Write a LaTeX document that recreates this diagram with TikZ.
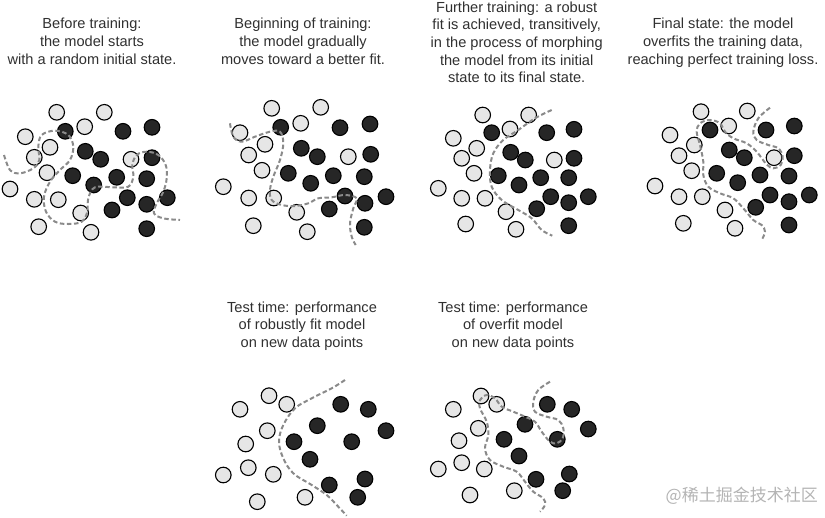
\documentclass[tikz,border=0pt]{standalone}
\usepackage{fontspec}
\setmainfont{Liberation Sans}
\newfontfamily\cjk{Noto Sans CJK SC}
\definecolor{lightc}{HTML}{E6E6E6}
\definecolor{darkc}{HTML}{262626}
\definecolor{dashc}{HTML}{8A8A8A}
\definecolor{txtc}{HTML}{303030}
\definecolor{wmc}{HTML}{B4B4B4}
\begin{document}
\begin{tikzpicture}[x=1pt,y=-1pt,
  wc/.style={fill=lightc, draw=black, line width=1.1pt},
  dc/.style={fill=darkc, draw=black, line width=1.1pt},
  bnd/.style={draw=dashc, line width=2pt, dash pattern=on 4.5pt off 2.6pt},
  captxt/.style={anchor=base, inner sep=0pt, text=txtc, font=\fontsize{14.6}{17.7}\selectfont}]
\useasboundingbox (0,0) rectangle (825,517);
\def\rr{7.8}
% ---------- captions ----------
\foreach \t [count=\i] in {Before training:, the model starts, with a random initial state.}
  \node[captxt] (ca\i) at (92, 28.8+17.7*\i-17.7) {\t};
\foreach \t [count=\i] in {Beginning of training:, the model gradually, moves toward a better fit.}
  \node[captxt] (cb\i) at (303, 28.8+17.7*\i-17.7) {\t};
\foreach \t [count=\i] in {Further training: a robust, {fit is achieved, transitively,}, in the process of morphing, the model from its initial, state to its final state.}
  \node[captxt] (cc\i) at (516.7, 12.1+17.7*\i-17.7) {\t};
\foreach \t [count=\i] in {Final state: the model, {overfits the training data,}, reaching perfect training loss.}
  \node[captxt] (cd\i) at (723, 28.8+17.7*\i-17.7) {\t};
\foreach \t [count=\i] in {Test time: performance, of robustly fit model, on new data points}
  \node[captxt] (ce\i) at (302, 312.1+17.6*\i-17.6) {\t};
\foreach \t [count=\i] in {Test time: performance, of overfit model, on new data points}
  \node[captxt] (cf\i) at (513, 312.1+17.6*\i-17.6) {\t};
% ---------- panel 1 ----------
\foreach \x/\y in {56.7/112.3,104.3/112.3,84.7/126.7,25.3/136.7,50/147.3,34.3/157.3,131/159.3,47/172.7,10/189,34.3/199.3,58.3/199.7,80.7/213,38.7/226.7,91/232.3}
  \path[wc] (\x,\y) circle (\rr);
\foreach \x/\y in {65.3/131.3,123/131.3,152/127.3,85.3/151.3,100.7/159.3,152/157.7,72.7/175.7,116.7/177.3,146.7/178.7,93.7/185,127.3/197.7,167.3/197.7,146.7/204.3,112/210,146.7/228.7}
  \path[dc] (\x,\y) circle (\rr);
\draw[bnd] plot[smooth, tension=0.6] coordinates {(4,155) (10,170) (20,173.3) (33.3,168.3) (39.3,160) (38.3,146.7) (41.7,135) (55,130.7) (68.3,135) (73.3,146.7) (70,160) (60,170) (50,181.7) (44,196.7) (46,211.7) (55,221.7) (68.3,224) (81.7,221.7) (87.3,211.7) (88.3,198.3) (95,187.3) (113.3,187.3) (128.3,186.7) (133.3,176.7) (132.3,165) (136.7,155) (146.7,151.7) (158.3,155) (165.7,165) (166.7,178.3) (163.3,191.7) (156.7,203.3) (154,213.3) (163.3,218.3) (180,220)};
% ---------- panel 2 ----------
\foreach \x/\y in {271.7/108.3,320.7/107.3,300.7/123.3,240/132.7,265/144.3,248.7/155,348.3/156.7,262/170.3,223.3/186.7,248.7/198,273.7/198,296.7/212.3,253.3/225.7,307.3/231.7}
  \path[wc] (\x,\y) circle (\rr);
\foreach \x/\y in {280.7/127.3,340/127.7,370/124,301.3/148.3,317.3/156.7,370.7/154.3,288.3/173.3,333.3/175.7,364.3/176.7,310.7/183.3,345/196,386/196.7,365/203.3,329.3/209,364.3/227.3}
  \path[dc] (\x,\y) circle (\rr);
\draw[bnd] plot[smooth, tension=0.6] coordinates {(230,123.3) (233.3,136.7) (241.7,141.7) (255,136.7) (270,131.7) (280,131.7) (283.3,143.3) (280,160) (273.3,176.7) (270,190) (271.7,200) (281.7,205) (295,206) (308.3,203.3) (318.3,198.3) (331.7,197.3) (345,195) (356.7,198.3) (353.3,208.3) (350,223.3) (351.7,236.7) (355.7,245)};
% ---------- panel 3 ----------
\foreach \x/\y in {482.7/115,528.7/115,510/129,453.3/138.3,476.7/148.3,461.7/158.3,554.3/160,474/173.3,438.3/188.3,461.7/198.3,485/198.3,506/211.7,465.7/224,516/229.3}
  \path[wc] (\x,\y) circle (\rr);
\foreach \x/\y in {491.7/132.7,546.7/132.7,574/129.3,510.7/152.3,525.3/160,574/158.3,498.3/175.7,540.7/177.7,568.7/177.7,519/185,550.7/196.7,588.3/196.7,568.7/202.7,536.7/208.7,568.7/225.7}
  \path[dc] (\x,\y) circle (\rr);
\draw[bnd] plot[smooth, tension=0.6] coordinates {(551.7,110) (535,118.3) (518.3,130) (503.3,140) (493.3,153.3) (490,170) (491.7,186.7) (501.7,200) (518.3,210) (531.7,218.3) (541.7,230) (552.3,235.7)};
% ---------- panel 4 ----------
\foreach \x/\y in {701/111.7,747.3/111,728.7/126,670/135,694.3/145,679/155.7,774/157.7,691.7/170.7,655/186,679/196.7,702.3/196.7,725/210,683.3/223.3,735/228.3}
  \path[wc] (\x,\y) circle (\rr);
\foreach \x/\y in {710/130,766/130,794.3/126,729.3/150,744.3/157.7,794.3/155.7,716.7/173.3,760/175,789/176,737.7/182.7,770/195,809.3/195,789/201.7,755.7/207.3,789/225}
  \path[dc] (\x,\y) circle (\rr);
\draw[bnd] plot[smooth, tension=0.6] coordinates {(770,107.7) (758.3,118.3) (753.3,131.7) (756.7,140) (768.3,145) (778.3,148.3) (782.7,156.7) (780.7,165) (773.3,168.3) (767.3,165) (761.7,158.3) (756.7,151.7) (746.7,143.3) (733.3,138.3) (725,131.7) (720,123.3) (710,120) (700,123.3) (696.7,131.7) (700,145) (703.3,161.7) (703.3,175) (708.3,186.7) (720,193.3) (733.3,198.3) (743.3,208.3) (753.3,220) (761.7,225) (765,231.7) (761.7,240)};
% ---------- panel 5 ----------
\foreach \x/\y in {269/395.7,286.7/404.3,240/409.3,267.3/430.7,245.7/444,248.3/467.7,223.3/475,273.3/474.3,257.3/501.7,305/497.3}
  \path[wc] (\x,\y) circle (\rr);
\foreach \x/\y in {340.7/404.3,368.3/409.3,317.3/425.7,386/430.7,294/441.7,351.7/441.7,310/459.3,365/479,329.3/485,357.7/497.3}
  \path[dc] (\x,\y) circle (\rr);
\draw[bnd] plot[smooth, tension=0.6] coordinates {(345,380) (331.7,388.3) (311.7,398.3) (295,408.3) (283.3,425) (279,441.7) (283.3,458.3) (293.3,473.3) (311.7,485) (326.7,495) (338.3,506.7) (346.7,515.7)};
% ---------- panel 6 ----------
\foreach \x/\y in {481/396,496.7/404.3,453.3/409.3,478.3/428.3,459/440.7,461.7/462.7,438.3/469,484.3/469,470/495,514.3/490.7}
  \path[wc] (\x,\y) circle (\rr);
\foreach \x/\y in {547.3/404.3,571.7/409.3,525/424.3,588.3/429,504/439.3,557.3/439.3,519/456,569.3/474,536/479.3,562.7/490.7}
  \path[dc] (\x,\y) circle (\rr);
\draw[bnd] plot[smooth, tension=0.6] coordinates {(550,381.7) (538.3,390) (533.3,401.7) (535,411.7) (546.7,416.7) (558.3,420) (563.3,428.3) (562.7,438.3) (556.7,443.3) (550,441.7) (541.7,431.7) (535,421.7) (525,416.7) (513.3,411.7) (501.7,406.7) (495,398.3) (486.7,395) (480,400) (480,408.3) (486.7,421.7) (488.3,435) (485,448.3) (490,460) (503.3,466.7) (516.7,471.7) (525,481.7) (533.3,491.7) (543.3,498.3) (545,505) (540,511.7)};
% ---------- watermark ----------
\node[anchor=east, inner sep=0pt, text=wmc, font=\cjk\fontsize{17}{17}\selectfont] (wm) at (818,496) {@稀土掘金技术社区};
\end{tikzpicture}
\end{document}
